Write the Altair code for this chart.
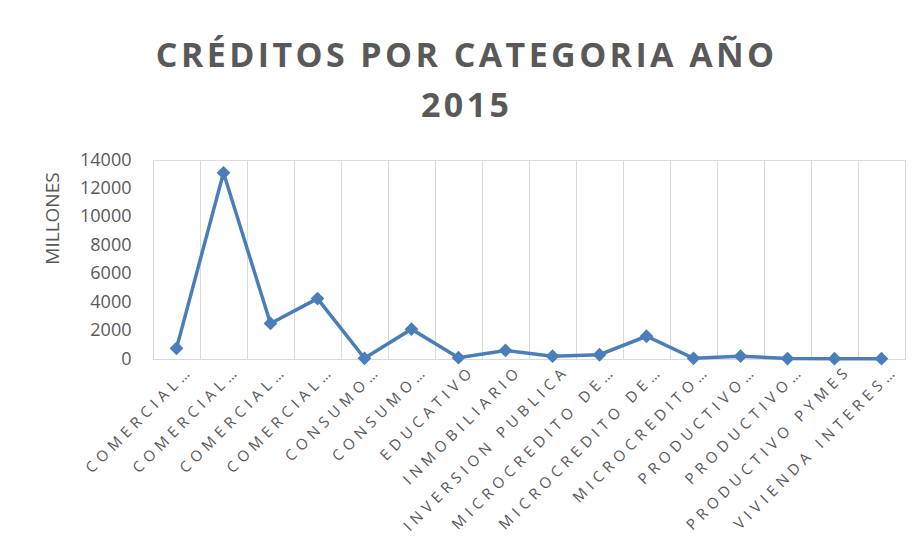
import json
import altair as alt
import pandas as pd

categorias = [
    "COMERCIAL CORPORATIVO",
    "COMERCIAL EMPRESARIAL",
    "COMERCIAL ORDINARIO",
    "COMERCIAL PRIORITARIO",
    "CONSUMO ORDINARIO",
    "CONSUMO PRIORITARIO",
    "EDUCATIVO",
    "INMOBILIARIO",
    "INVERSION PUBLICA",
    "MICROCREDITO DE ACUMULACION AMPLIADA",
    "MICROCREDITO DE ACUMULACION SIMPLE",
    "MICROCREDITO MINORISTA",
    "PRODUCTIVO CORPORATIVO",
    "PRODUCTIVO EMPRESARIAL",
    "PRODUCTIVO PYMES",
    "VIVIENDA INTERES PUBLICO",
]
etiquetas = [
    "COMERCIAL…", "COMERCIAL…", "COMERCIAL…", "COMERCIAL…",
    "CONSUMO…", "CONSUMO…", "EDUCATIVO", "INMOBILIARIO",
    "INVERSION PUBLICA", "MICROCREDITO DE…", "MICROCREDITO DE…",
    "MICROCREDITO…", "PRODUCTIVO…", "PRODUCTIVO…", "PRODUCTIVO PYMES",
    "VIVIENDA INTERES…",
]
millones = [750, 13100, 2500, 4250, 50, 2100, 90, 600, 200, 300, 1600, 50, 200, 30, 20, 20]
y_ticks = [0, 2000, 4000, 6000, 8000, 10000, 12000, 14000]
titulo = ["CRÉDITOS POR CATEGORIA AÑO", "2015"]
titulo_y = "MILLONES"

df = pd.DataFrame({"categoria": categorias, "millones": millones})


def spaced(s, sp):
    return sp.join(list(s))


shown = [spaced(e, "\u2004") for e in etiquetas]
label_expr = "%s[indexof(%s, datum.value)]" % (json.dumps(shown), json.dumps(categorias))
titulo_shown = [spaced(t, "\u200a") for t in titulo]

GRAY = "#595959"
BLUE = "#4A7EBB"

base = alt.Chart(df).encode(
    x=alt.X(
        "categoria:N",
        sort=categorias,
        scale=alt.Scale(type="band", paddingInner=0, paddingOuter=0),
        axis=alt.Axis(
            title=None,
            grid=True,
            gridColor="#d9d9d9",
            gridWidth=1,
            tickBand="extent",
            ticks=False,
            domain=True,
            domainColor="#d9d9d9",
            domainWidth=1,
            labelAngle=-45,
            labelAlign="right",
            labelBaseline="middle",
            labelPadding=12,
            labelOffset=10,
            labelFont="Open Sans",
            labelFontSize=15,
            labelColor=GRAY,
            labelLimit=400,
            labelExpr=label_expr,
        ),
    ),
    y=alt.Y(
        "millones:Q",
        scale=alt.Scale(domain=[0, 14000]),
        axis=alt.Axis(
            values=y_ticks,
            format="d",
            grid=False,
            domain=False,
            ticks=False,
            labelFont="Open Sans",
            labelFontSize=18,
            labelColor=GRAY,
            labelPadding=22,
            title=titulo_y,
            titleFont="Open Sans",
            titleFontSize=19,
            titleFontWeight="normal",
            titleColor=GRAY,
            titleAngle=-90,
            titleX=-91,
            titleY=58,
            titleAlign="center",
            titleBaseline="bottom",
        ),
    ),
)

line = base.mark_line(color=BLUE, strokeWidth=3.5)
pts = base.mark_point(shape="diamond", filled=True, size=190, color=BLUE, opacity=1)

chart = (
    alt.layer(line, pts)
    .properties(
        width=752,
        height=199,
        title=alt.TitleParams(
            text=titulo_shown,
            font="Open Sans",
            fontSize=34,
            fontWeight="bold",
            color=GRAY,
            lineHeight=50,
            anchor="middle",
            dx=-64,
            offset=27,
        ),
        autosize=alt.AutoSizeParams(type="none"),
        padding={"left": 145, "top": 152, "right": 6, "bottom": 188},
    )
    .configure_view(stroke=None)
    .configure(background="white")
)

chart.save("out.html", embed_options={"renderer": "svg", "actions": False})
